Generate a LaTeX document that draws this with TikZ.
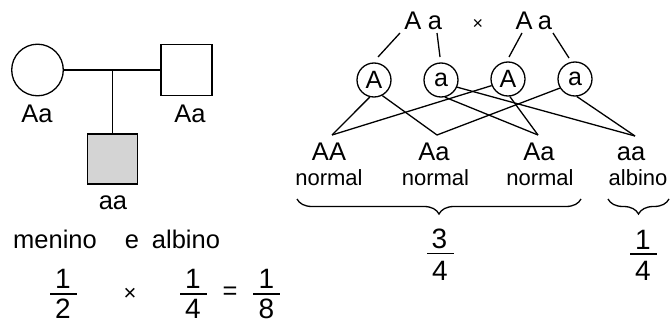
\documentclass[tikz,border=0pt]{standalone}
\usepackage{fontspec}
\setmainfont{Liberation Sans}
\usetikzlibrary{decorations.pathreplacing}
\begin{document}
\begin{tikzpicture}[x=1pt,y=-1pt,line width=1.3pt,
  lbl/.style={font=\fontsize{25.5}{25.5}\selectfont,inner sep=0pt,anchor=base},
  sml/.style={font=\fontsize{22}{22}\selectfont,inner sep=0pt,anchor=base},
  digit/.style={font=\fontsize{28}{28}\selectfont,inner sep=0pt,anchor=base},
  times/.style={font=\fontsize{#1}{#1}\selectfont,inner sep=0pt},
  gamete/.style={circle,draw,minimum size=34pt,inner sep=0pt,font=\fontsize{25}{25}\selectfont},
  bar/.style={fill=black,minimum width=27pt,minimum height=1.3pt,inner sep=0pt,outer sep=0pt},
  squarebox/.style={draw,minimum size=#1,inner sep=0pt},
  bracedown/.style={decorate,decoration={brace,mirror,amplitude=15pt}}]
\useasboundingbox (0,0) rectangle (670,324);

% ---- pedigree ----
\node[circle,draw,minimum size=51.6pt,inner sep=0pt] (mom) at (37.5,70) {};
\node[squarebox=51pt] (dad) at (186.5,70) {};
\node[squarebox=50pt,fill={rgb,255:red,212;green,212;blue,212}] (son) at (112.5,159) {};
\coordinate (mid) at (112.5,70);
\draw (mom) -- (dad);
\draw (mid) -- (son);
\node[lbl] (momg) at (37,122) {Aa};
\node[lbl] (dadg) at (190,122) {Aa};
\node[lbl] (song) at (113,209) {aa};

\node[lbl] (w1) at (55,248) {menino};
\node[lbl] (w2) at (132,248) {e};
\node[lbl] (w3) at (186,248) {albino};

% ---- probability product ----
\node[digit] (n1) at (63,288.5) {1};
\node[bar] (b1) at (63,294) {};
\node[digit] (d1) at (63,318) {2};
\node[times=22] (x1) at (130,294) {×};
\node[digit] (n2) at (193,288.5) {1};
\node[bar] (b2) at (193,294) {};
\node[digit] (d2) at (193,318) {4};
\node[lbl,anchor=center] (eq) at (230,293) {=};
\node[digit] (n3) at (266.5,288.5) {1};
\node[bar] (b3) at (266.5,294) {};
\node[digit] (d3) at (266.5,318) {8};

% ---- cross ----
\node[lbl] (pA1) at (413,30) {A};
\node[lbl] (pa1) at (435,30) {a};
\node[times=18] (x2) at (478,24) {×};
\node[lbl] (pA2) at (524,30) {A};
\node[lbl] (pa2) at (545,30) {a};

\node[gamete] (gA1) at (374,80) {A};
\node[gamete] (ga1) at (441,80) {a};
\node[gamete] (gA2) at (508,79) {A};
\node[gamete] (ga2) at (575,79) {a};

\draw ([shift={(-13,3)}]pA1.base) -- ([shift={(4,-23)}]gA1.center);
\draw ([shift={(2,3)}]pa1.base) -- ([shift={(-1,-23)}]ga1.center);
\draw ([shift={(-2,3)}]pA2.base) -- ([shift={(1,-22)}]gA2.center);
\draw ([shift={(8,3)}]pa2.base) -- ([shift={(-6,-21)}]ga2.center);

\coordinate (vAA) at (332,135);
\coordinate (vAa1) at (437,135);
\coordinate (vAa2) at (538,135);
\coordinate (vaa) at (635,136);

\draw (gA1.256) -- (vAA);
\draw (gA1.298) -- (vAa1);
\draw (ga1.283) -- (vAa2);
\draw (ga1.336) -- (vaa);
\draw (gA2.202) -- (vAA);
\draw (gA2.276) -- (vAa2);
\draw (ga2.211) -- (vAa1);
\draw (ga2.276) -- (vaa);

\node[lbl] (oAA) at (329,160) {AA};
\node[lbl] (oAa1) at (434,160) {Aa};
\node[lbl] (oAa2) at (539,160) {Aa};
\node[lbl] (oaa) at (631,160) {aa};
\node[sml] (ph1) at (329,185) {normal};
\node[sml] (ph2) at (435.5,185) {normal};
\node[sml] (ph3) at (540,185) {normal};
\node[sml,anchor=base west] (ph4) at (608,185) {albino};

\coordinate (bl1) at (297,199);
\coordinate (br1) at (581,199);
\coordinate (bl2) at (608,199);
\coordinate (br2) at (669,199);
\draw[bracedown] (bl1) -- (br1);
\draw[bracedown] (bl2) -- (br2);

\node[digit] (n4) at (439.5,248) {3};
\node[bar] (b4) at (440,253.5) {};
\node[digit] (d4) at (440,280) {4};
\node[digit] (n5) at (643,249) {1};
\node[bar] (b5) at (643,254) {};
\node[digit] (d5) at (643,280) {4};
\end{tikzpicture}
\end{document}
